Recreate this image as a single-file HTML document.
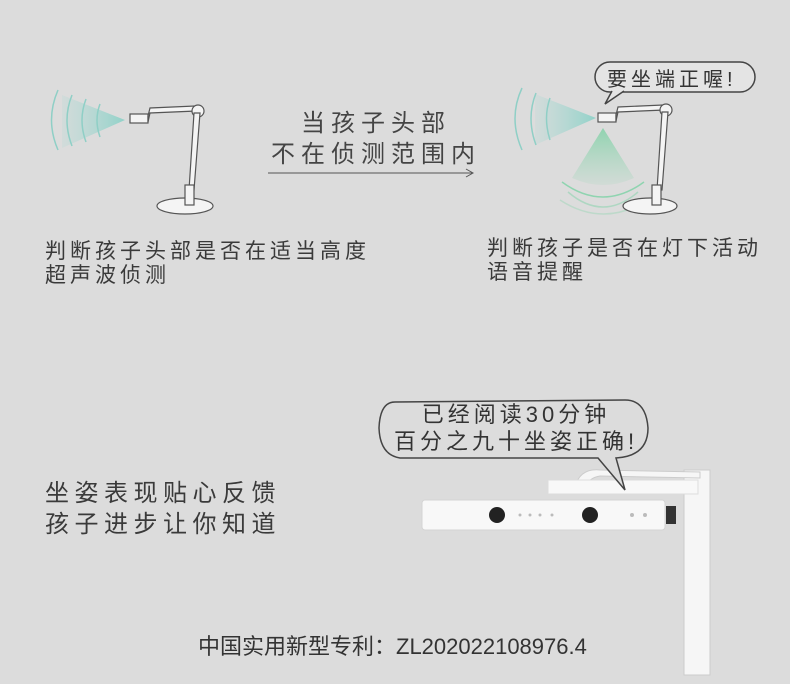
<!DOCTYPE html>
<html><head><meta charset="utf-8"><style>
body{margin:0;width:790px;height:684px;background:#dcdcdc;overflow:hidden;position:relative;font-family:"Liberation Sans","Noto Sans CJK SC",sans-serif;color:#3a3a3a}
.t{position:absolute;white-space:nowrap}
</style></head><body>
<svg width="790" height="684" style="position:absolute;left:0;top:0">
<defs>
<linearGradient id="tc" x1="0" x2="1"><stop offset="0" stop-color="#9ed8d0" stop-opacity="0.2"/><stop offset="1" stop-color="#7fcfc4"/></linearGradient>
<linearGradient id="gc" x1="0" y1="1" x2="0" y2="0"><stop offset="0" stop-color="#8fd4b0" stop-opacity="0.2"/><stop offset="1" stop-color="#6fcf9c"/></linearGradient>
</defs>
<polygon points="125,120 62,95 62,148" fill="url(#tc)" opacity="0.8"/>
<g fill="none" stroke="#8fcfc6" stroke-width="1.5">
<path d="M58,90 Q45,120 58,150"/><path d="M72,95 Q62,120 72,146"/><path d="M86,99 Q78,120 86,142"/><path d="M100,104 Q94,120 100,137"/>
</g>
<g fill="#f4f4f4" stroke="#555" stroke-width="1.2">
<rect x="130" y="114" width="18" height="9"/>
<polygon points="148,116 150,108 195,106 196,111 150,113 148,122"/>
<circle cx="198" cy="111" r="6"/>
<polygon points="194,113 200,113 194,190 189,190"/>
<ellipse cx="185" cy="206" rx="28" ry="8"/>
<rect x="185" y="185" width="9" height="20"/>
</g>
<line x1="268" y1="173" x2="472" y2="173" stroke="#555" stroke-width="1"/>
<path d="M466,169 L473,173 L466,177" fill="none" stroke="#555"/>
<polygon points="596,118 535,94 535,145" fill="url(#tc)" opacity="0.8"/>
<g fill="none" stroke="#8fcfc6" stroke-width="1.5">
<path d="M522,88 Q508,118 522,150"/><path d="M536,93 Q526,118 536,145"/><path d="M550,98 Q543,118 550,140"/>
</g>
<path d="M603,128 L572,178 Q603,192 634,178 Z" fill="url(#gc)" opacity="0.7"/>
<g fill="none" stroke="#8fd4b0" stroke-width="1.5">
<path d="M562,182 Q603,212 644,182"/><path d="M568,192 Q603,222 638,192" opacity="0.6"/><path d="M560,200 Q603,228 648,200" opacity="0.4"/>
</g>
<g fill="#f4f4f4" stroke="#555" stroke-width="1.2">
<rect x="598" y="113" width="18" height="9"/>
<polygon points="616,115 618,107 663,105 664,110 618,112 616,121"/>
<circle cx="666" cy="110" r="6"/>
<polygon points="662,112 668,112 662,190 657,190"/>
<ellipse cx="650" cy="206" rx="27" ry="8"/>
<rect x="652" y="185" width="9" height="20"/>
</g>
<rect x="595" y="62" width="160" height="30" rx="15" fill="#e4e4e4" stroke="#444" stroke-width="1.5"/>
<path d="M612,91 L605,104 L624,91" fill="#e4e4e4" stroke="#444" stroke-width="1.5"/>
<rect x="684" y="470" width="26" height="205" fill="#f6f6f6" stroke="#ccc"/>
<path d="M575,487 Q580,468 600,470 L700,472 L700,478 L600,476 Q588,478 585,488 Z" fill="#f6f6f6" stroke="#ccc"/>
<rect x="548" y="480" width="150" height="14" fill="#f8f8f8" stroke="#ddd"/>
<rect x="422" y="500" width="243" height="30" rx="3" fill="#f8f8f8" stroke="#d4d4d4"/>
<circle cx="497" cy="515" r="8" fill="#222"/><circle cx="590" cy="515" r="8" fill="#222"/>
<rect x="666" y="506" width="10" height="18" fill="#333"/>
<g fill="#bbb"><circle cx="520" cy="515" r="1.5"/><circle cx="530" cy="515" r="1.5"/><circle cx="540" cy="515" r="1.5"/><circle cx="552" cy="515" r="1.5"/><circle cx="632" cy="515" r="2"/><circle cx="645" cy="515" r="2"/></g>
<path d="M395,402 Q380,402 379,428 Q380,455 400,458 L598,458 L625,490 L616,458 Q648,456 648,428 Q646,400 625,400 Z" fill="#dcdcdc" stroke="#444" stroke-width="1.5"/>
</svg>
<div class="t" style="left:268px;top:108px;font-size:24px;letter-spacing:6px;line-height:31px;color:#444;text-align:center;width:216px">当孩子头部<br>不在侦测范围内</div>
<div class="t" style="left:45px;top:240px;font-size:21px;letter-spacing:4px;line-height:24px">判断孩子头部是否在适当高度<br>超声波侦测</div>
<div class="t" style="left:487px;top:237px;font-size:21px;letter-spacing:4px;line-height:24px">判断孩子是否在灯下活动<br>语音提醒</div>
<div class="t" style="left:607px;top:63px;font-size:20px;letter-spacing:4px;color:#333">要坐端正喔!</div>
<div class="t" style="left:388px;top:401px;font-size:22px;letter-spacing:4px;line-height:27px;color:#333;text-align:center;width:256px">已经阅读30分钟<br>百分之九十坐姿正确!</div>
<div class="t" style="left:45px;top:478px;font-size:24px;letter-spacing:5.5px;line-height:31px">坐姿表现贴心反馈<br>孩子进步让你知道</div>
<div class="t" style="left:198px;top:629px;font-size:22px;color:#333">中国实用新型专利：ZL202022108976.4</div>
</body></html>
